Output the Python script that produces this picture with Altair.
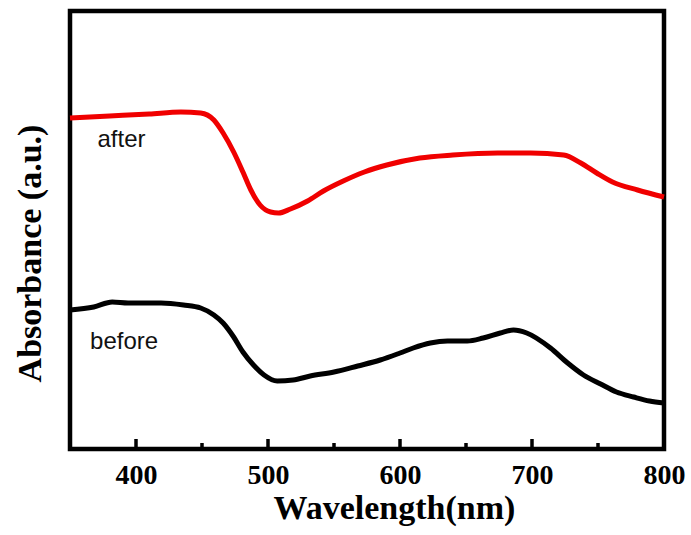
import altair as alt
import pandas as pd

# ---- data ----
after_wl = [350, 380, 410, 434, 449, 459, 466, 474, 481, 487, 494, 502, 508, 517, 530,
            542, 557, 573, 590, 615, 640, 674, 699, 724, 737, 749, 761, 780, 800]
after_abs = [3.31, 3.33, 3.35, 3.37, 3.36, 3.29, 3.16, 2.97, 2.77, 2.59, 2.44, 2.37, 2.36, 2.40, 2.48,
             2.58, 2.68, 2.77, 2.84, 2.91, 2.94, 2.96, 2.96, 2.94, 2.86, 2.76, 2.67, 2.59, 2.52]

before_wl = [350, 368, 382, 394, 406, 419, 436, 449, 459, 466, 474, 481, 489, 497, 507, 519,
             532, 550, 568, 585, 600, 610, 623, 636, 651, 663, 676, 686, 696, 714, 727, 739,
             752, 764, 777, 789, 800]
before_abs = [1.39, 1.42, 1.47, 1.46, 1.46, 1.46, 1.44, 1.41, 1.34, 1.26, 1.12, 0.97, 0.84, 0.74, 0.68, 0.69,
              0.73, 0.77, 0.83, 0.89, 0.96, 1.01, 1.06, 1.08, 1.08, 1.11, 1.16, 1.19, 1.16, 1.01, 0.86, 0.74,
              0.65, 0.57, 0.52, 0.48, 0.46]

tick_labels = [400, 500, 600, 700, 800]
major_ticks = [400, 500, 600, 700]
minor_ticks = [450, 550, 650, 750]

label_text = ["after", "before"]
label_wl = [389, 391]
label_abs = [3.09, 1.07]

series_names = ["after", "before"]
series_colors = ["#f00000", "#000000"]

# ---- tables ----
df = pd.DataFrame({
    "wl": after_wl + before_wl,
    "abs": after_abs + before_abs,
    "series": ["after"] * len(after_wl) + ["before"] * len(before_wl),
})
major_df = pd.DataFrame({"wl": major_ticks})
minor_df = pd.DataFrame({"wl": minor_ticks})
text_df = pd.DataFrame({"wl": label_wl, "abs": label_abs, "txt": label_text})

x_scale = alt.Scale(domain=[350, 800], nice=False, zero=False)
y_scale = alt.Scale(domain=[0, 4.38], nice=False, zero=False)

x_axis = alt.Axis(
    values=tick_labels, title="Wavelength(nm)", grid=False, domain=False,
    ticks=False, tickSize=0, labelPadding=34, labelBaseline="alphabetic",
    labelFlush=False, labelOverlap=False,
    titleX=324, titleY=69, titleBaseline="alphabetic", titleAlign="center",
)
y_axis = alt.Axis(
    title="Absorbance (a.u.)", labels=False, ticks=False, domain=False, grid=False,
    titleX=-40, titleY=242, titleAlign="center", titleBaseline="middle", titleAngle=270,
)

X = alt.X("wl:Q", scale=x_scale, axis=x_axis)
Y = alt.Y("abs:Q", scale=y_scale, axis=y_axis)

lines = alt.Chart(df).mark_line(strokeWidth=5, interpolate="monotone").encode(
    x=X, y=Y,
    color=alt.Color("series:N", scale=alt.Scale(domain=series_names, range=series_colors), legend=None),
)

major = alt.Chart(major_df).mark_rule(color="black", strokeWidth=3.5).encode(
    x=X, y=alt.value(438), y2=alt.value(428),
)
minor = alt.Chart(minor_df).mark_rule(color="black", strokeWidth=3.5).encode(
    x=X, y=alt.value(438), y2=alt.value(432),
)

labels = alt.Chart(text_df).mark_text(
    font="Liberation Sans", fontSize=24, align="center", baseline="middle", color="#111111"
).encode(
    x=X, y=Y, text="txt:N",
)

chart = alt.layer(lines, major, minor, labels).properties(
    width=594, height=438,
    autosize=alt.AutoSizeParams(type="none"),
    padding={"left": 70, "top": 11, "right": 27, "bottom": 86},
    background="white",
).configure_view(
    stroke="black", strokeWidth=4.5
).configure_axis(
    labelFont="Liberation Serif", labelFontSize=28, labelFontWeight="bold", labelColor="black",
    titleFont="Liberation Serif", titleFontSize=34, titleFontWeight="bold", titleColor="black",
)

chart.save("out.html", embed_options={"renderer": "svg", "actions": False})
